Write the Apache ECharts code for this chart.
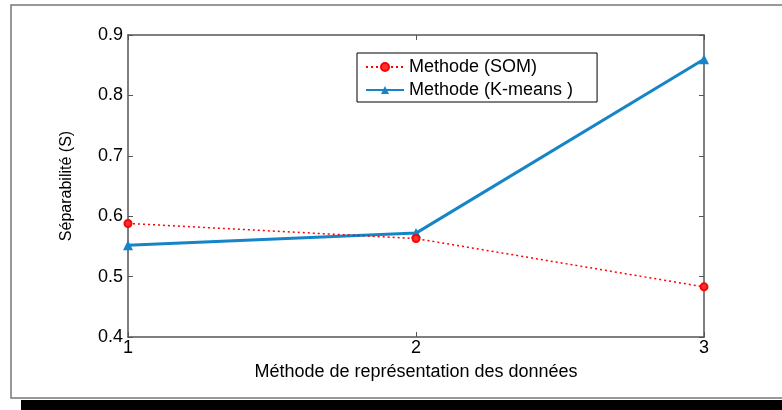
<!DOCTYPE html>
<html>
<head>
<meta charset="utf-8">
<script src="https://cdn.jsdelivr.net/npm/echarts@6/dist/echarts.min.js"></script>
<style>
  html, body { margin: 0; padding: 0; background: #fff; }
  #main { width: 782px; height: 410px; }
</style>
</head>
<body>
<div id="main"></div>
<script>
    // données
    var methodes = [1, 2, 3];
    var som = [0.588, 0.563, 0.483];
    var kmeans = [0.552, 0.572, 0.860];
    var yTicks = [0.4, 0.5, 0.6, 0.7, 0.8, 0.9];

    var font = "'Liberation Sans', Arial, sans-serif";
    var axisGrey = '#555';

    function pairs(ys) {
        return methodes.map(function (x, i) { return [x, ys[i]]; });
    }

    var main = echarts.init(document.getElementById('main'));

    var option = {
        backgroundColor: '#fff',
        animation: false,
        textStyle: { fontFamily: font },
        //cadre de la figure + ombre
        graphic: [
            {
                type: 'rect',
                shape: { x: 11, y: 5, width: 800, height: 393 },
                style: { fill: 'none', stroke: '#777', lineWidth: 1.5 },
                z: -1
            },
            {
                type: 'rect',
                shape: { x: 21, y: 400, width: 800, height: 12 },
                style: { fill: '#000' },
                z: -1
            }
        ],
        grid: { left: 128, right: 78, top: 35, bottom: 73 },
        //légende
        legend: {
            orient: 'vertical',
            left: 357,
            top: 53,
            padding: [5, 24, 3, 8],
            itemGap: 5,
            itemWidth: 38,
            itemHeight: 10,
            backgroundColor: '#fff',
            borderColor: '#000',
            borderWidth: 1,
            textStyle: { fontSize: 18, color: '#000', fontFamily: font },
            data: ['Methode (SOM)', 'Methode (K-means )']
        },
        xAxis: [
            {
                type: 'value',
                min: 1, max: 3, interval: 1,
                name: 'Méthode de représentation des données',
                nameLocation: 'middle',
                nameGap: 26,
                nameTextStyle: { fontSize: 18, color: '#000' },
                axisLine: { lineStyle: { color: axisGrey, width: 1.5 } },
                axisTick: { inside: true, length: 5, lineStyle: { color: axisGrey } },
                axisLabel: { fontSize: 18, color: '#000', margin: 2 },
                splitLine: { show: false }
            },
            {
                type: 'value', position: 'top',
                min: 1, max: 3, interval: 1,
                axisLine: { lineStyle: { color: axisGrey, width: 1.5 } },
                axisTick: { inside: true, length: 5, lineStyle: { color: axisGrey } },
                axisLabel: { show: false },
                splitLine: { show: false }
            }
        ],
        yAxis: [
            {
                type: 'value',
                min: yTicks[0], max: yTicks[yTicks.length - 1], interval: 0.1,
                name: 'Séparabilité (S)',
                nameLocation: 'middle',
                nameGap: 53,
                nameTextStyle: { fontSize: 16, color: '#000' },
                axisLine: { show: true, lineStyle: { color: axisGrey, width: 1.5 } },
                axisTick: { show: true, inside: true, length: 5, lineStyle: { color: axisGrey } },
                axisLabel: { fontSize: 18, color: '#000', margin: 5,
                    formatter: function (v) { return v.toFixed(1); } },
                splitLine: { show: false }
            },
            {
                type: 'value', position: 'right',
                min: yTicks[0], max: yTicks[yTicks.length - 1], interval: 0.1,
                axisLine: { show: true, lineStyle: { color: axisGrey, width: 1.5 } },
                axisTick: { show: true, inside: true, length: 5, lineStyle: { color: axisGrey } },
                axisLabel: { show: false },
                splitLine: { show: false }
            }
        ],
        series: [
            {
                name: 'Methode (SOM)',
                type: 'line',
                data: pairs(som),
                symbol: 'circle',
                symbolSize: 7,
                lineStyle: { color: '#ff0000', width: 1.5, type: [2, 3] },
                itemStyle: { color: '#ff3030', borderColor: '#ff0000', borderWidth: 2 },
                z: 3
            },
            {
                name: 'Methode (K-means )',
                type: 'line',
                data: pairs(kmeans),
                symbol: 'triangle',
                symbolSize: 10,
                lineStyle: { color: '#1585c8', width: 3 },
                itemStyle: { color: '#1585c8' },
                z: 2
            }
        ]
    };

    main.setOption(option);
</script>
</body>
</html>
